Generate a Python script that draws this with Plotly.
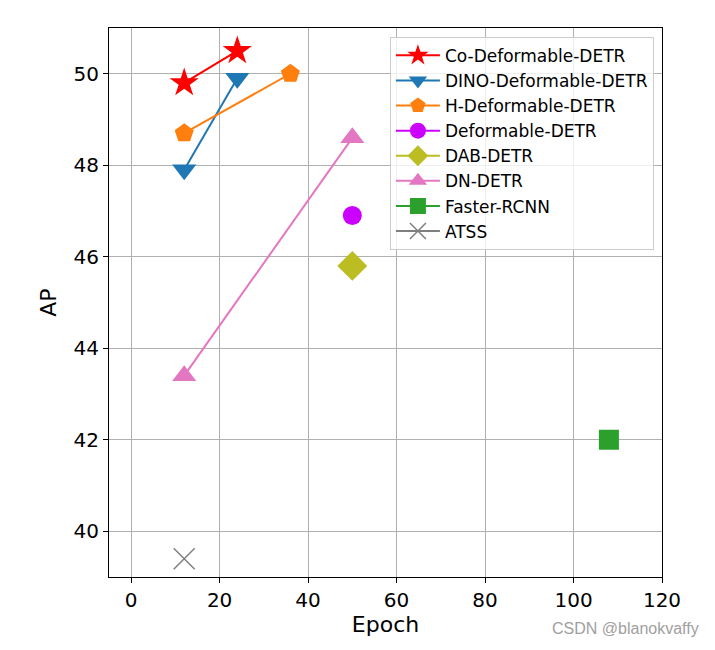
import plotly.graph_objects as go

names = ["Co-Deformable-DETR", "DINO-Deformable-DETR", "H-Deformable-DETR",
         "Deformable-DETR", "DAB-DETR", "DN-DETR", "Faster-RCNN", "ATSS"]
epochs = [[12, 24], [12, 24], [12, 36], [50], [50], [12, 50], [108], [12]]
ap = [[49.8, 50.5], [47.9, 49.9], [48.7, 50.0], [46.9], [45.8], [43.4, 48.6], [42.0], [39.4]]
colors = ["#ff0000", "#1f77b4", "#ff7f0e", "#cc00ff", "#bcbd22", "#e377c2", "#2ca02c", "#7f7f7f"]
symbols = ["star", "triangle-down", "pentagon", "circle", "diamond", "triangle-up", "square", "x-thin-open"]
sizes = [22, 21, 20, 19, 23, 21, 20, 21]

fig = go.Figure()
for n, x, y, c, s, sz in zip(names, epochs, ap, colors, symbols, sizes):
    marker = dict(symbol=s, size=sz, color=c)
    if s == "x-thin-open":
        marker["line"] = dict(color=c, width=1.5)
    else:
        marker["line"] = dict(width=0)
    fig.add_trace(go.Scatter(x=x, y=y, name=n, mode="lines+markers",
                             line=dict(color=c, width=2), marker=marker))

axis_common = dict(showgrid=True, gridcolor="#b0b0b0", gridwidth=1,
                   showline=True, linecolor="black", linewidth=1, mirror=True,
                   ticks="outside", ticklen=5, tickcolor="black",
                   tickfont=dict(family="DejaVu Sans", size=20, color="black"),
                   zeroline=False)

fig.update_layout(
    width=707, height=642,
    margin=dict(l=101, r=53, t=20, b=73),
    plot_bgcolor="white", paper_bgcolor="white",
    font=dict(family="DejaVu Sans", color="black"),
    xaxis=dict(range=[-5, 120], tickvals=[0, 20, 40, 60, 80, 100, 120],
               title=dict(text="Epoch", font=dict(size=22), standoff=4), **axis_common),
    yaxis=dict(range=[39, 51], tickvals=[40, 42, 44, 46, 48, 50],
               title=dict(text="AP", font=dict(size=22), standoff=10), **axis_common),
    legend=dict(x=0.508, y=0.984, xanchor="left", yanchor="top",
                bgcolor="rgba(255,255,255,0.8)", bordercolor="#cccccc", borderwidth=1,
                font=dict(size=17, family="DejaVu Sans", color="black"),
                tracegroupgap=0, itemwidth=44),
    showlegend=True,
)
fig.add_annotation(text="CSDN @blanokvaffy", xref="paper", yref="paper",
                   x=1.07, y=-0.075, xanchor="right", yanchor="top", showarrow=False,
                   font=dict(size=16, color="#a0a0a0", family="Liberation Sans"))

fig.write_html("out.html")
